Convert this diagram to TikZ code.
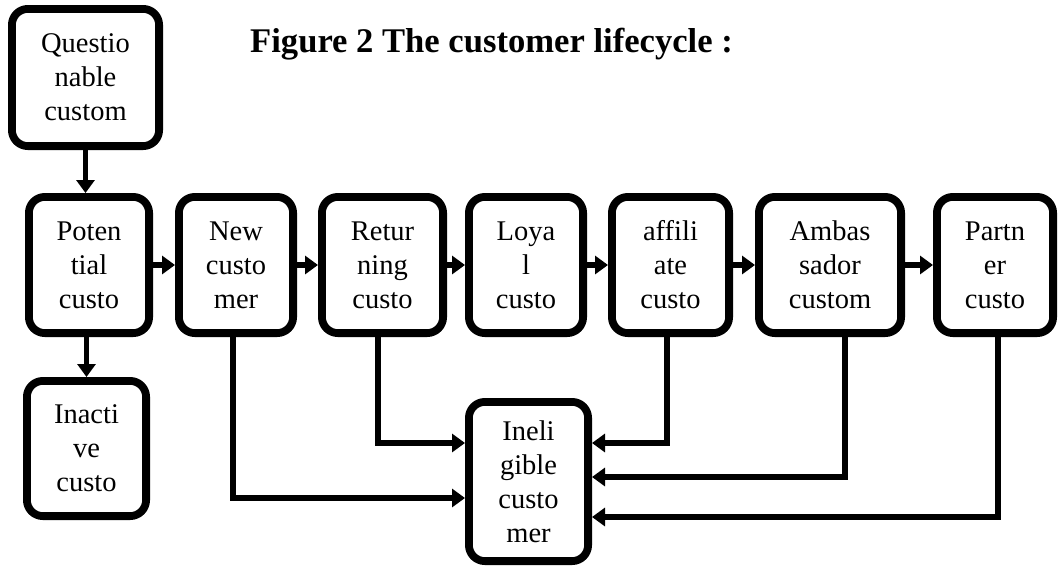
\documentclass[tikz,border=0pt]{standalone}
\usepackage{fontspec}
\setmainfont{Liberation Serif}
\usetikzlibrary{arrows.meta,positioning}

\begin{document}
\begin{tikzpicture}[x=1pt,y=-1pt,
  stage/.style={draw,line width=7.8pt,rounded corners=16pt,minimum height=136.2pt,
    inner sep=0pt,align=center,font=\fontsize{28.5}{34}\selectfont},
  arr/.style={line width=5.5pt,-{Triangle[length=13pt,width=18pt]}}]
\useasboundingbox (0,0) rectangle (1062,568);
% main row
\node[stage,minimum width=120.2pt] (pot) at (89,265) {Poten\\tial\\custo};
\node[stage,minimum width=114.2pt,right=22pt of pot] (new) {New\\custo\\mer};
\node[stage,minimum width=121.2pt,right=21pt of new] (ret) {Retur\\ning\\custo};
\node[stage,minimum width=114.2pt,right=18pt of ret] (loyal) {Loya\\l\\custo};
\node[stage,minimum width=117.2pt,right=21pt of loyal] (aff) {affili\\ate\\custo};
\node[stage,minimum width=142.2pt,right=22pt of aff] (amb) {Ambas\\sador\\custom};
\node[stage,minimum width=116.2pt,right=28pt of amb] (part) {Partn\\er\\custo};
% above and below
\node[stage,minimum width=147.2pt,minimum height=137.2pt,above=43pt of pot,xshift=-3.5pt] (quest) {Questio\\nable\\custom};
\node[stage,minimum width=119.2pt,minimum height=135.2pt,below=40pt of pot,xshift=-2.5pt] (inact) {Inacti\\ve\\custo};
\node[stage,minimum width=119.2pt,minimum height=159.2pt,below=61pt of loyal,xshift=2.5pt] (inel) {Ineli\\gible\\custo\\mer};
\node[anchor=base west,inner sep=0pt,font=\fontsize{34.6}{40}\selectfont\bfseries] (title) at (250,52)
  {Figure 2 The customer lifecycle :};
% connectors
\draw[arr] (quest.south) -- (quest.south |- pot.north);
\draw[arr] (inact.north |- pot.south) -- (inact.north);
\draw[arr] (pot) -- (new); \draw[arr] (new) -- (ret); \draw[arr] (ret) -- (loyal);
\draw[arr] (loyal) -- (aff); \draw[arr] (aff) -- (amb); \draw[arr] (amb) -- (part);
\draw[arr] ([xshift=-4.5pt]ret.south) |- ([yshift=38.5pt]inel.west);
\draw[arr] ([xshift=-3pt]new.south) |- ([yshift=-16.5pt]inel.west);
\draw[arr] ([xshift=-3.5pt]aff.south) |- ([yshift=38.5pt]inel.east);
\draw[arr] ([xshift=15pt]amb.south) |- ([yshift=4.5pt]inel.east);
\draw[arr] ([xshift=3pt]part.south) |- ([yshift=-35.5pt]inel.east);
\end{tikzpicture}
\end{document}
